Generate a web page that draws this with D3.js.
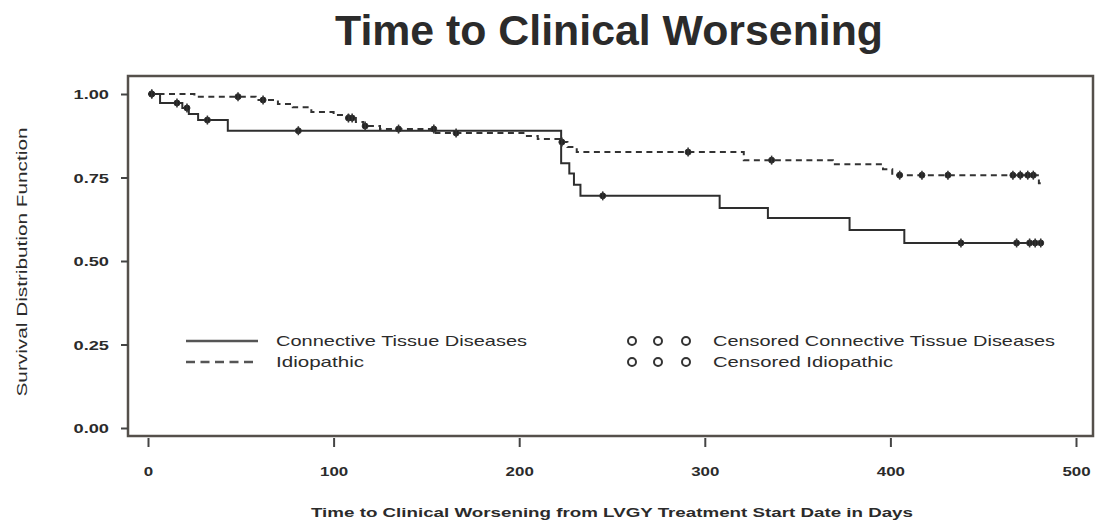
<!DOCTYPE html>
<html>
<head>
<meta charset="utf-8">
<script src="https://cdn.jsdelivr.net/npm/d3@7"></script>
<style>
  body { margin: 0; background: #fff; }
  text { font-family: "Liberation Sans", Arial, sans-serif; fill: #2b2b2b; }
</style>
</head>
<body>
<div id="chart"></div>
<script>
'use strict';
// Kaplan-Meier steps (time in days, survival after the step)
const ctdTimes = [0, 6.5, 18.5, 22, 27, 43, 222.6, 227, 229.5, 233, 308, 334, 378, 407.5, 482];
const ctdSurv  = [1.0, 0.973, 0.958, 0.94, 0.922, 0.89, 0.793, 0.762, 0.728, 0.695, 0.659, 0.629, 0.593, 0.554, 0.554];
const ctdCensored = [2, 15.6, 21, 32, 81, 245, 438, 468, 475, 478, 481];

const idioTimes = [0, 25, 58, 70, 78, 88, 100, 108, 112, 116, 125, 155, 203, 210, 222, 226, 231, 321, 369, 396, 401, 480, 481];
const idioSurv  = [1.0, 0.992, 0.982, 0.97, 0.96, 0.946, 0.937, 0.928, 0.916, 0.904, 0.895, 0.883, 0.874, 0.865, 0.856, 0.841, 0.826, 0.802, 0.79, 0.775, 0.757, 0.733, 0.733];
const idioCensored = [2, 48.5, 62, 108, 110, 117, 135, 154, 166, 223, 291, 336, 405, 417, 431, 466, 470, 474, 477];

const xTicks = [0, 100, 200, 300, 400, 500];
const yTicks = [0, 0.25, 0.5, 0.75, 1.0];

const legendLines = ["Connective Tissue Diseases", "Idiopathic"];
const legendCensored = ["Censored Connective Tissue Diseases", "Censored Idiopathic"];

const W = 1095, H = 524;
const frame = {left: 128, top: 76, right: 1093, bottom: 436};

const x = d3.scaleLinear().domain([0, 500]).range([148, 1076]);
const y = d3.scaleLinear().domain([0, 1]).range([428, 94]);

const svg = d3.select("#chart").append("svg")
    .attr("width", W)
    .attr("height", H);

// the picture is stretched sideways, so widen text to the measured widths
function stretch(sel, factor) {
    sel.each(function() {
        const len = this.getComputedTextLength();
        d3.select(this)
            .attr("textLength", len * factor)
            .attr("lengthAdjust", "spacingAndGlyphs");
    });
}

// title
svg.append("text")
    .attr("x", 609)
    .attr("y", 45)
    .attr("text-anchor", "middle")
    .style("font-size", "42px")
    .style("font-weight", "bold")
    .attr("textLength", 548)
    .attr("lengthAdjust", "spacingAndGlyphs")
    .text("Time to Clinical Worsening");

// frame
svg.append("rect")
    .attr("x", frame.left)
    .attr("y", frame.top)
    .attr("width", frame.right - frame.left)
    .attr("height", frame.bottom - frame.top)
    .attr("fill", "none")
    .attr("stroke", "#55504b")
    .attr("stroke-width", 2.5);

// y axis, ticks outside the frame
const yAxis = svg.append("g")
    .attr("transform", "translate(" + frame.left + ",0)")
    .call(d3.axisLeft(y).tickValues(yTicks).tickFormat(d3.format(".2f")).tickSize(7).tickSizeOuter(0).tickPadding(12));
yAxis.select(".domain").remove();
yAxis.selectAll("line").attr("stroke", "#444").attr("stroke-width", 2);
yAxis.selectAll("text")
    .style("font-size", "13px")
    .style("font-weight", "bold")
    .attr("fill", "#333")
    .attr("dy", "0.35em");
stretch(yAxis.selectAll("text"), 1.4);

// x axis
const xAxis = svg.append("g")
    .attr("transform", "translate(0," + (frame.bottom + 2) + ")")
    .call(d3.axisBottom(x).tickValues(xTicks).tickSize(9).tickSizeOuter(0).tickPadding(20));
xAxis.select(".domain").remove();
xAxis.selectAll("line").attr("stroke", "#444").attr("stroke-width", 2);
xAxis.selectAll("text")
    .style("font-size", "13px")
    .style("font-weight", "bold")
    .attr("fill", "#333");
stretch(xAxis.selectAll("text"), 1.3);

// axis titles
svg.append("text")
    .attr("x", 612)
    .attr("y", 517)
    .attr("text-anchor", "middle")
    .style("font-size", "13px")
    .style("font-weight", "bold")
    .attr("textLength", 602)
    .attr("lengthAdjust", "spacingAndGlyphs")
    .text("Time to Clinical Worsening from LVGY Treatment Start Date in Days");

svg.append("text")
    .attr("transform", "translate(27,262) rotate(-90)")
    .attr("text-anchor", "middle")
    .style("font-size", "14px")
    .attr("textLength", 269)
    .attr("lengthAdjust", "spacingAndGlyphs")
    .text("Survival Distribution Function");

// survival curves
const stepLine = d3.line()
    .x(function(d) { return x(d.t); })
    .y(function(d) { return y(d.s); })
    .curve(d3.curveStepAfter);

const ctd = ctdTimes.map(function(t, i) { return {t: t, s: ctdSurv[i]}; });
const idio = idioTimes.map(function(t, i) { return {t: t, s: idioSurv[i]}; });

// survival value at time t for a step series
function survAt(data, t) {
    let s = data[0].s;
    data.forEach(function(d) { if (d.t <= t) s = d.s; });
    return s;
}

svg.append("path")
    .datum(idio)
    .attr("d", stepLine)
    .attr("fill", "none")
    .attr("stroke", "#333")
    .attr("stroke-width", 2)
    .attr("stroke-dasharray", "6,4.5");

svg.append("path")
    .datum(ctd)
    .attr("d", stepLine)
    .attr("fill", "none")
    .attr("stroke", "#2e2e2e")
    .attr("stroke-width", 2);

// censor marks
function drawCensored(times, data) {
    const g = svg.append("g");
    g.selectAll("circle")
        .data(times)
        .enter().append("circle")
        .attr("cx", function(t) { return x(t); })
        .attr("cy", function(t) { return y(survAt(data, t)); })
        .attr("r", 3)
        .attr("fill", "#222")
        .attr("stroke", "#333")
        .attr("stroke-width", 1);
    g.selectAll("line")
        .data(times)
        .enter().append("line")
        .attr("x1", function(t) { return x(t); })
        .attr("x2", function(t) { return x(t); })
        .attr("y1", function(t) { return y(survAt(data, t)) - 4.5; })
        .attr("y2", function(t) { return y(survAt(data, t)) + 4.5; })
        .attr("stroke", "#333")
        .attr("stroke-width", 1.5);
}
drawCensored(ctdCensored, ctd);
drawCensored(idioCensored, idio);

// legend
const legendY = [341, 362];
const lineTextLen = [251, 88];
const censTextLen = [342, 180];
const leg = svg.append("g");
leg.selectAll("line.sample")
    .data(legendLines)
    .enter().append("line")
    .attr("class", "sample")
    .attr("x1", 186)
    .attr("x2", 258)
    .attr("y1", function(d, i) { return legendY[i]; })
    .attr("y2", function(d, i) { return legendY[i]; })
    .attr("stroke", "#555")
    .attr("stroke-width", 2.5)
    .attr("stroke-dasharray", function(d, i) { return i === 1 ? "9,5.5" : null; });

leg.selectAll("text.lines")
    .data(legendLines)
    .enter().append("text")
    .attr("class", "lines")
    .attr("x", 276)
    .attr("y", function(d, i) { return legendY[i] + 5; })
    .style("font-size", "15px")
    .attr("textLength", function(d, i) { return lineTextLen[i]; })
    .attr("lengthAdjust", "spacingAndGlyphs")
    .text(function(d) { return d; });

const circleX = [632, 658, 686];
legendCensored.forEach(function(label, i) {
    leg.selectAll("circle.c" + i)
        .data(circleX)
        .enter().append("circle")
        .attr("class", "c" + i)
        .attr("cx", function(d) { return d; })
        .attr("cy", legendY[i])
        .attr("r", 4)
        .attr("fill", "#fff")
        .attr("stroke", "#333")
        .attr("stroke-width", 2);
});

leg.selectAll("text.cens")
    .data(legendCensored)
    .enter().append("text")
    .attr("class", "cens")
    .attr("x", 713)
    .attr("y", function(d, i) { return legendY[i] + 5; })
    .style("font-size", "15px")
    .attr("textLength", function(d, i) { return censTextLen[i]; })
    .attr("lengthAdjust", "spacingAndGlyphs")
    .text(function(d) { return d; });
</script>
</body>
</html>
